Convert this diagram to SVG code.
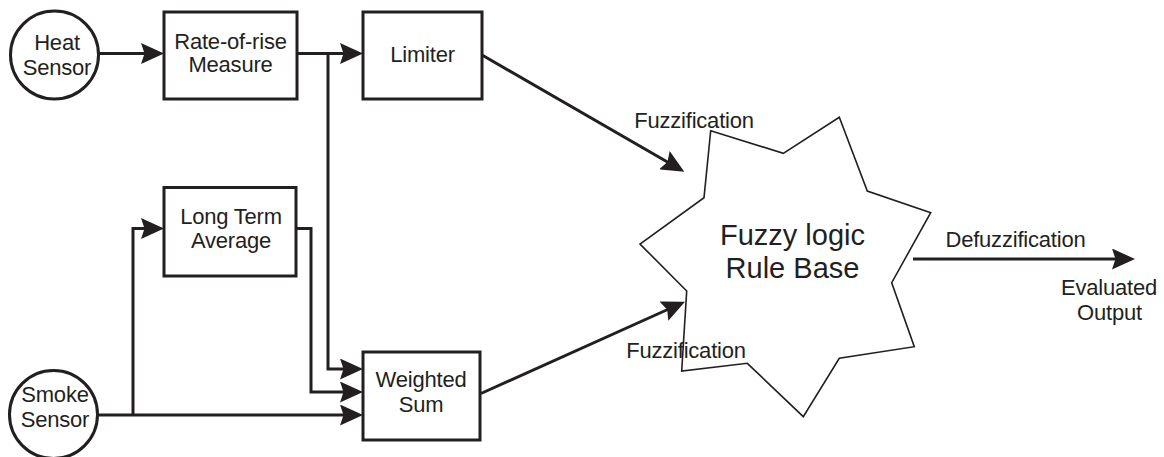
<svg xmlns="http://www.w3.org/2000/svg" width="1164" height="457" viewBox="0 0 1164 457">
<style>
.node{fill:#fff;stroke:#231f20;stroke-width:3}
.star{fill:#fff;stroke:#231f20;stroke-width:1.6;stroke-linejoin:miter}
.t{font-family:"Liberation Sans",Arial,sans-serif;font-size:22px;fill:#231f20;text-anchor:middle;letter-spacing:-0.2px}
.big{font-size:29px;letter-spacing:0}
.c{fill:none;stroke:#231f20;stroke-width:3;stroke-linejoin:miter}
.a{marker-end:url(#ah)}
</style>
<defs>
<marker id="ah" markerUnits="userSpaceOnUse" markerWidth="23" markerHeight="21" refX="15" refY="10.5" orient="auto" viewBox="0 0 23 21">
<path d="M0,0 L23,10.5 L0,21 L3.5,10.5 Z" fill="#231f20"/>
</marker>
</defs>
<rect width="1164" height="457" fill="#fff"/>
<g id="connectors">
<path class="c a" d="M99,53.5 L156,53.5"/>
<path class="c a" d="M297,53.5 L355,53.5"/>
<path class="c a" d="M328,53.5 L328,369 L355,369"/>
<path class="c a" d="M98,415 L355,415"/>
<path class="c a" d="M133,415 L133,228.5 L156,228.5"/>
<path class="c a" d="M297,228.5 L311,228.5 L311,392 L355,392"/>
<path class="c a" d="M482,55 L677.4,167.7"/>
<path class="c a" d="M481,393.5 L677.7,305"/>
<path class="c a" d="M913,259 L1127,259"/>
</g>
<g id="heat-sensor">
<circle class="node" cx="54.5" cy="55" r="44"/>
<text class="t" x="57" y="50">Heat</text>
<text class="t" x="57" y="75">Sensor</text>
</g>
<g id="rate-of-rise">
<rect class="node" x="164" y="12" width="133" height="87"/>
<text class="t" x="230.5" y="48.5">Rate-of-rise</text>
<text class="t" x="230.5" y="72">Measure</text>
</g>
<g id="limiter">
<rect class="node" x="363" y="12" width="119" height="87"/>
<text class="t" x="422.5" y="61.5">Limiter</text>
</g>
<g id="long-term-average">
<rect class="node" x="164" y="187.5" width="132" height="88.5"/>
<text class="t" x="231" y="223.5">Long Term</text>
<text class="t" x="231" y="247.5">Average</text>
</g>
<g id="weighted-sum">
<rect class="node" x="363" y="352" width="117" height="88"/>
<text class="t" x="421" y="386.5">Weighted</text>
<text class="t" x="421" y="411.5">Sum</text>
</g>
<g id="smoke-sensor">
<circle class="node" cx="53.5" cy="414.5" r="44"/>
<text class="t" x="55" y="401.5">Smoke</text>
<text class="t" x="55" y="426.5">Sensor</text>
</g>
<g id="rule-base">
<polygon class="star" points="710.7,130.7 783.3,153.3 839.3,117.3 867.3,191 930.7,212.7 891.7,282.7 914.3,346.7 839.3,358.3 803.3,416.7 747.3,363.3 681.7,371 686.7,291 640,244 704,197.7"/>
<text class="t big" x="792.5" y="245">Fuzzy logic</text>
<text class="t big" x="792.5" y="278.3">Rule Base</text>
</g>
<g id="labels">
<text class="t" x="694" y="127.7">Fuzzification</text>
<text class="t" x="686" y="357.7">Fuzzification</text>
<text class="t" x="1015.5" y="246.7">Defuzzification</text>
<text class="t" x="1109" y="295">Evaluated</text>
<text class="t" x="1109.5" y="320">Output</text>
</g>
</svg>
